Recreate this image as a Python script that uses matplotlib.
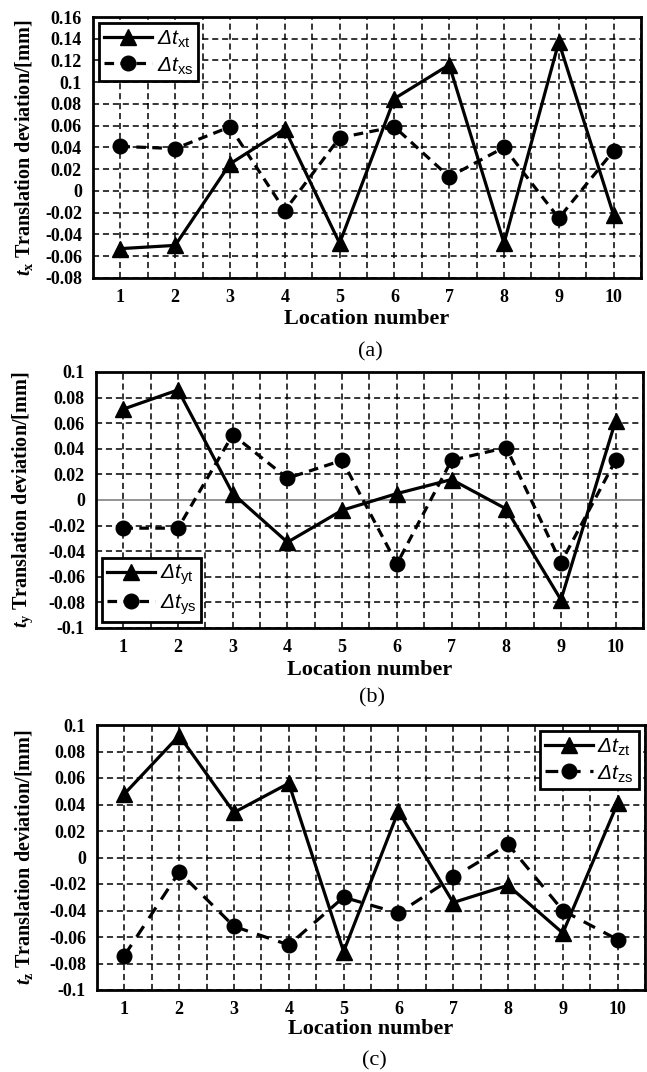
import numpy as np
import matplotlib
matplotlib.use('Agg')
import matplotlib.pyplot as plt
from matplotlib.ticker import MultipleLocator, FuncFormatter, FixedLocator

plt.rcParams['font.family'] = ['Liberation Serif', 'DejaVu Serif']
plt.rcParams['mathtext.fontset'] = 'custom'
plt.rcParams['mathtext.rm'] = 'Liberation Sans'
plt.rcParams['mathtext.sf'] = 'Liberation Sans:italic'
plt.rcParams['mathtext.it'] = 'Liberation Serif:italic:bold'
plt.rcParams['mathtext.bf'] = 'Liberation Serif:bold'

# 数据
locations = [1, 2, 3, 4, 5, 6, 7, 8, 9, 10]

dtx_t = [-0.053, -0.050, 0.025, 0.057, -0.048, 0.085, 0.116, -0.048, 0.137, -0.022]
dtx_s = [0.041, 0.039, 0.059, -0.018, 0.049, 0.059, 0.013, 0.040, -0.025, 0.037]

dty_t = [0.071, 0.086, 0.005, -0.033, -0.008, 0.005, 0.016, -0.007, -0.078, 0.062]
dty_s = [-0.022, -0.022, 0.051, 0.017, 0.031, -0.050, 0.031, 0.041, -0.049, 0.031]

dtz_t = [0.048, 0.092, 0.034, 0.056, -0.071, 0.035, -0.034, -0.021, -0.057, 0.041]
dtz_s = [-0.074, -0.011, -0.052, -0.066, -0.030, -0.042, -0.015, 0.010, -0.040, -0.062]

W, H = 647, 1072
fig = plt.figure(figsize=(W / 100, H / 100), dpi=100)


def px_axes(left, top, right, bottom):
    return fig.add_axes([left / W, 1 - bottom / H, (right - left) / W, (bottom - top) / H])


def fmt(v, pos):
    v = round(v, 2)
    if abs(v) < 1e-9:
        return '0'
    return f'{v:g}'


panels = [
    dict(box=(93, 17, 641, 278), t=dtx_t, s=dtx_s, ylim=(-0.08, 0.16), axis='x',
         sub='x', legloc='upper left', dash=(3.0, 2.0), xlab_y=319, tag='(a)', tag_y=352),
    dict(box=(96, 372, 643, 628), t=dty_t, s=dty_s, ylim=(-0.1, 0.1), axis='y',
         sub='y', legloc='lower left', dash=(3.0, 2.0), xlab_y=670, tag='(b)', tag_y=698),
    dict(box=(97, 725, 645, 990), t=dtz_t, s=dtz_s, ylim=(-0.1, 0.1), axis='z',
         sub='z', legloc='upper right', dash=(4.0, 3.0), xlab_y=1029, tag='(c)', tag_y=1061),
]

for i, p in enumerate(panels):
    ax = px_axes(*p['box'])
    l, tp, r, b = p['box']
    ax.plot(locations, p['t'], color='black', lw=2.3, marker='^', markersize=11,
            label=r'$\mathsf{Δt}_{\mathrm{' + p['axis'] + 't}}$', zorder=3)
    ax.plot(locations, p['s'], color='black', lw=2.3, marker='o', markersize=10.5,
            dashes=p['dash'], label=r'$\mathsf{Δt}_{\mathrm{' + p['axis'] + 's}}$', zorder=3)

    ax.set_xlim(0.5, 10.5)
    ax.set_ylim(*p['ylim'])
    ax.xaxis.set_major_locator(FixedLocator(locations))
    ax.xaxis.set_minor_locator(MultipleLocator(0.5))
    ax.yaxis.set_major_locator(MultipleLocator(0.02))
    ax.yaxis.set_major_formatter(FuncFormatter(fmt))
    ax.tick_params(axis='both', which='both', length=0)
    ax.tick_params(axis='x', pad=8, labelsize=13)
    ax.tick_params(axis='y', pad=8, labelsize=13)
    for lab in ax.get_xticklabels() + ax.get_yticklabels():
        lab.set_fontweight('bold')

    ax.grid(True, which='both', axis='x', color='black', lw=1.1, linestyle=(0, (4, 2.5)))
    ax.grid(True, which='major', axis='y', color='black', lw=1.1, linestyle=(0, (4, 2.5)))
    if i == 1:
        for tk in ax.yaxis.get_major_ticks():
            if abs(tk.get_loc()) < 1e-9:
                tk.gridline.set_visible(False)
        ax.axhline(0, color='#808080', lw=1.2, zorder=1)

    for sp in ax.spines.values():
        sp.set_linewidth(2.0)
        sp.set_color('black')

    ylab = r'$t_{\mathbf{' + p['sub'] + r'}}$ Translation deviation/[mm]'
    ax.set_ylabel(ylab, fontsize=14.5, fontweight='bold')
    ax.yaxis.set_label_coords((35 - l) / (r - l), 0.5)

    leg = ax.legend(loc=p['legloc'], fontsize=15, handlelength=2.3, handletextpad=0.2,
                    borderpad=0.25, labelspacing=0.25, fancybox=False, framealpha=1,
                    edgecolor='black', borderaxespad=0.3)
    leg.get_frame().set_linewidth(2.0)

    fig.text(((l + r) / 2) / W, 1 - p['xlab_y'] / H, 'Location number',
             ha='center', va='center', fontsize=16, fontweight='bold')
    fig.text(((l + r) / 2 + 3) / W, 1 - p['tag_y'] / H, p['tag'],
             ha='center', va='center', fontsize=16)

fig.savefig('out.png', dpi=100)
